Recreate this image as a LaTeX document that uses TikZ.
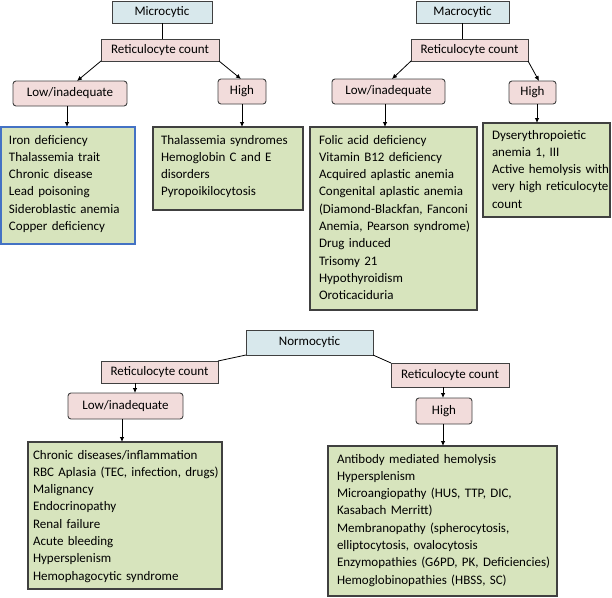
\documentclass[tikz,border=0pt]{standalone}
\usepackage{fontspec}
\setmainfont{Carlito}
\usetikzlibrary{arrows.meta}
\definecolor{hdrfill}{RGB}{216,232,236}
\definecolor{pinkfill}{RGB}{242,220,219}
\definecolor{greenfill}{RGB}{215,228,189}
\definecolor{edgegray}{RGB}{64,64,64}
\definecolor{edgeblue}{RGB}{68,114,196}
\begin{document}
\begin{tikzpicture}[x=1pt,y=-1pt,
  every node/.style={font=\fontsize{13pt}{17.3pt}\selectfont, inner sep=0pt, outer sep=0pt},
  hdr/.style={draw=edgegray, line width=0.9pt, fill=hdrfill, anchor=north west},
  ret/.style={draw=edgegray, line width=0.9pt, fill=pinkfill, anchor=north west},
  lvl/.style={draw=edgegray, line width=0.9pt, fill=pinkfill, rounded corners=3pt, anchor=north west},
  listbox/.style={draw=edgegray, line width=1.2pt, fill=greenfill, anchor=north west},
  listtxt/.style={anchor=base west, text width=300pt, align=left},
  arr/.style={-{Latex[length=5pt,width=4.5pt]}, line width=0.8pt, black},
  conn/.style={line width=0.8pt, black}
]
\useasboundingbox (0,0) rectangle (612,597);

% ---------------- Microcytic ----------------
\node[hdr, minimum width=100pt, minimum height=22pt] (mic) at (112,1) {Microcytic};
\node[ret, minimum width=118pt, minimum height=22pt] (mret) at (101,39) {Reticulocyte count};
\node[lvl, minimum width=114pt, minimum height=25pt] (mlow) at (13,81) {Low/inadequate};
\node[lvl, minimum width=48pt, minimum height=25pt] (mhigh) at (218,79) {High};
\node[listbox, draw=edgeblue, line width=1.1pt, minimum width=134pt, minimum height=117pt] (mlbox) at (1,127) {};
\node[listbox, line width=1.6pt, minimum width=150pt, minimum height=83pt] (mhbox) at (153,127) {};
\node[listtxt] (mltxt) at (9,144) {Iron deficiency\\Thalassemia trait\\Chronic disease\\Lead poisoning\\Sideroblastic anemia\\Copper deficiency};
\node[listtxt] (mhtxt) at (161,144) {Thalassemia syndromes\\Hemoglobin C and E\\disorders\\Pyropoikilocytosis};

\draw[conn] (mic.south) -- (mic.south |- mret.north);
\draw[arr] (mret.south west) -- ([xshift=7pt]mlow.north);
\draw[arr] (mret.south east) -- ([xshift=-1pt]mhigh.north);
\draw[arr] ([xshift=-3pt]mlow.south) -- ([xshift=-3pt]mlow.south |- mlbox.north);
\draw[arr] (mhigh.south) -- (mhigh.south |- mhbox.north);

% ---------------- Macrocytic ----------------
\node[hdr, minimum width=93pt, minimum height=22pt] (mac) at (416,1) {Macrocytic};
\node[ret, minimum width=117pt, minimum height=22pt] (aret) at (411,39) {Reticulocyte count};
\node[lvl, minimum width=113pt, minimum height=25pt] (alow) at (332,79) {Low/inadequate};
\node[lvl, minimum width=47pt, minimum height=23pt] (ahigh) at (509,81) {High};
\node[listbox, minimum width=167pt, minimum height=183pt] (albox) at (310,127) {};
\node[listbox, minimum width=127pt, minimum height=94pt] (ahbox) at (483,123) {};
\node[listtxt] (altxt) at (319,144) {Folic acid deficiency\\Vitamin B12 deficiency\\Acquired aplastic anemia\\Congenital aplastic anemia\\(Diamond-Blackfan, Fanconi\\Anemia, Pearson syndrome)\\Drug induced\\Trisomy 21\\Hypothyroidism\\Oroticaciduria};
\node[listtxt] (ahtxt) at (492,139) {Dyserythropoietic\\anemia 1, III\\Active hemolysis with\\very high reticulocyte\\count};

\draw[conn] (mac.south) -- (mac.south |- aret.north);
\draw[arr] (aret.south west) -- ([xshift=3.5pt]alow.north);
\draw[arr] (aret.south east) -- ([xshift=6.5pt]ahigh.north);
\draw[arr] ([xshift=-3.5pt]alow.south) -- ([xshift=-3.5pt]alow.south |- albox.north);
\draw[arr] ([xshift=4.5pt]ahigh.south) -- ([xshift=4.5pt]ahigh.south |- ahbox.north);

% ---------------- Normocytic ----------------
\node[hdr, minimum width=127pt, minimum height=25pt] (nor) at (246,330) {Normocytic};
\node[ret, minimum width=117pt, minimum height=22pt] (nret1) at (101,361) {Reticulocyte count};
\node[lvl, minimum width=115pt, minimum height=26pt] (nlow) at (68,393) {Low/inadequate};
\node[ret, minimum width=118pt, minimum height=24pt] (nret2) at (391,363) {Reticulocyte count};
\node[lvl, minimum width=56pt, minimum height=26pt] (nhigh) at (416,398) {High};
\node[listbox, minimum width=194pt, minimum height=147pt] (nlbox) at (28,442) {};
\node[listbox, minimum width=229pt, minimum height=150pt] (nhbox) at (328,446) {};
\node[listtxt] (nltxt) at (33,459) {Chronic diseases/inflammation\\RBC Aplasia (TEC, infection, drugs)\\Malignancy\\Endocrinopathy\\Renal failure\\Acute bleeding\\Hypersplenism\\Hemophagocytic syndrome};
\node[listtxt] (nhtxt) at (337,463) {Antibody mediated hemolysis\\Hypersplenism\\Microangiopathy (HUS, TTP, DIC,\\Kasabach Merritt)\\Membranopathy (spherocytosis,\\elliptocytosis, ovalocytosis\\Enzymopathies (G6PD, PK, Deficiencies)\\Hemoglobinopathies (HBSS, SC)};

\draw[conn] (nor.south west) -- (nret1.north east);
\draw[conn] (nor.south east) -- (nret2.north west);
\draw[arr] ([xshift=-24.5pt]nret1.south) -- ([xshift=-24.5pt]nret1.south |- nlow.north);
\draw[arr] ([xshift=-3.5pt]nlow.south) -- ([xshift=-3.5pt]nlow.south |- nlbox.north);
\draw[arr] ([xshift=-1pt]nhigh.south |- nret2.south) -- ([xshift=-1pt]nhigh.north);
\draw[arr] ([xshift=-1pt]nhigh.south) -- ([xshift=-1pt]nhigh.south |- nhbox.north);
\end{tikzpicture}
\end{document}
